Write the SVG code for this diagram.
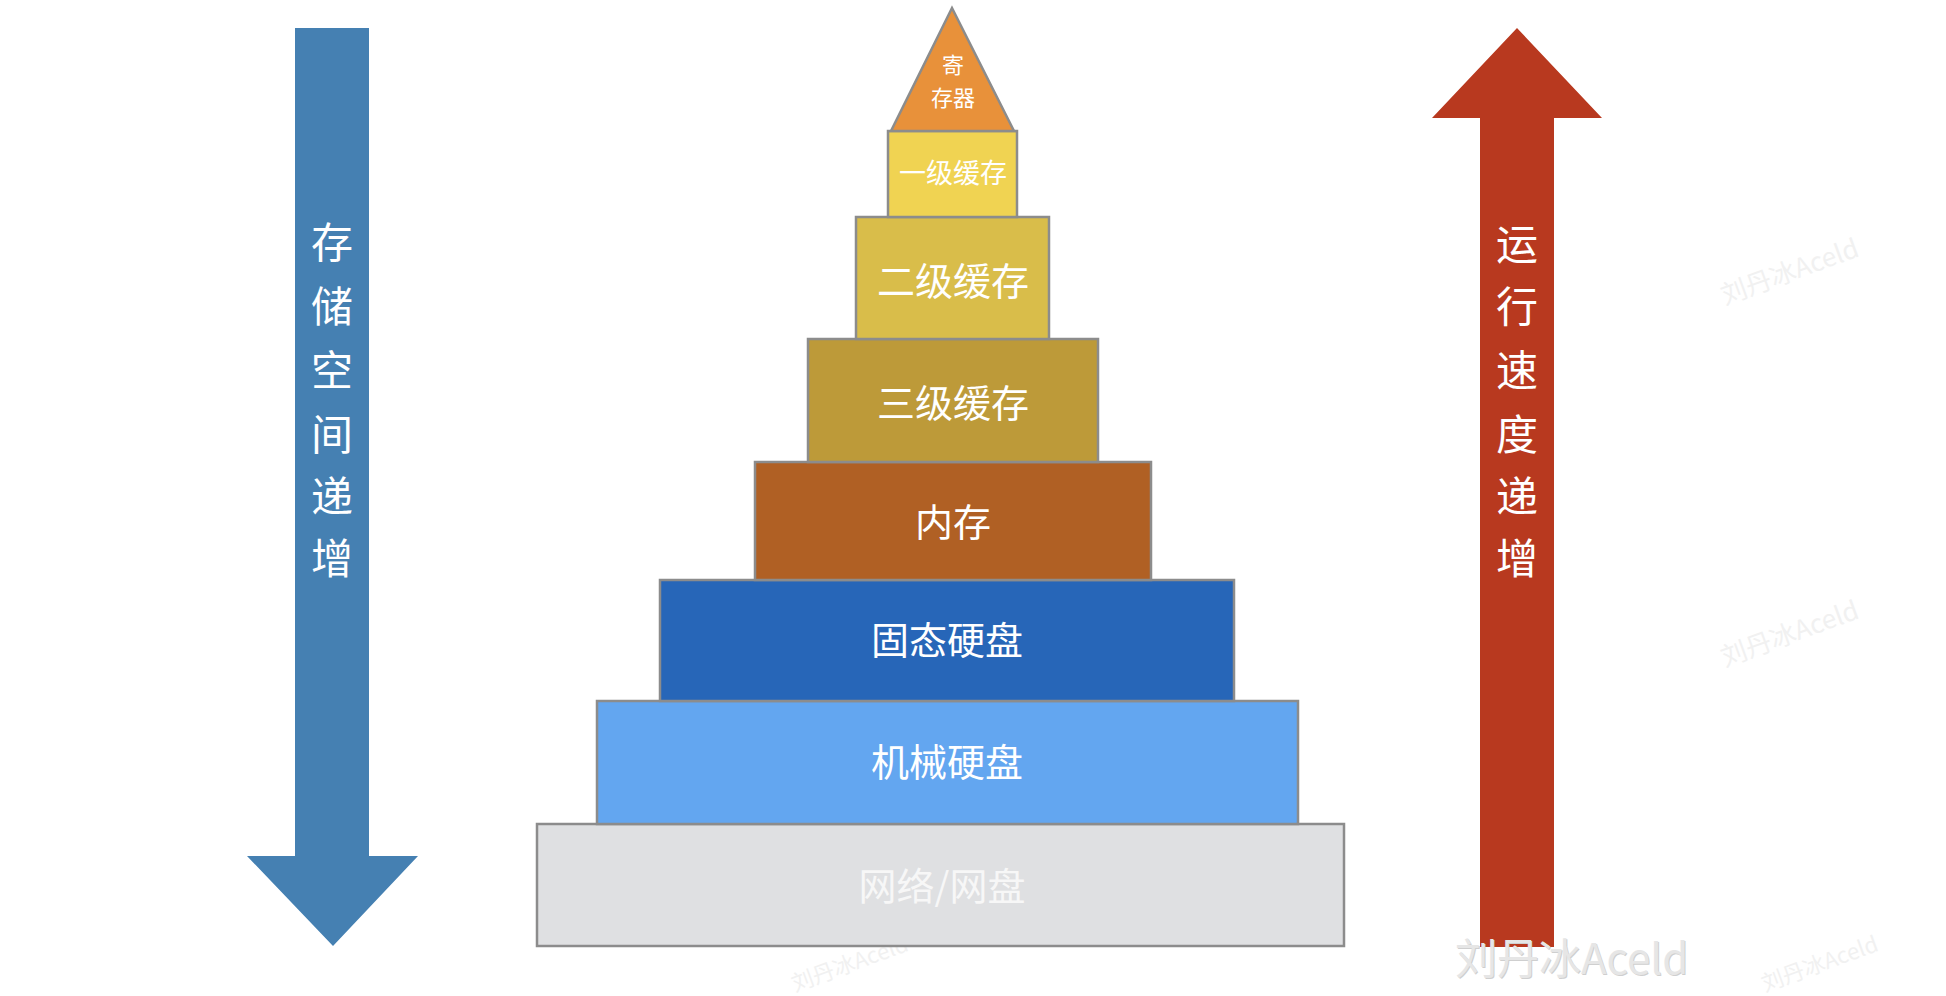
<svg xmlns="http://www.w3.org/2000/svg" width="1946" height="996" viewBox="0 0 1946 996">
<style>
.lvl{stroke:#8c8c8c;stroke-width:2.5}
.t{font-family:"Noto Sans CJK SC","Noto Sans",sans-serif;fill:#ffffff;text-anchor:middle}
.wm{font-family:"Noto Sans CJK SC","Noto Sans",sans-serif;fill:#f1f1f1;font-size:26px}
</style>
<rect width="1946" height="996" fill="#ffffff"/>
<g id="watermarks">
<text class="wm" transform="translate(1725,305) rotate(-20)">刘丹冰Aceld</text>
<text class="wm" transform="translate(1725,667) rotate(-20)">刘丹冰Aceld</text>
<text class="wm" font-size="22" transform="translate(1765,992) rotate(-20)" style="font-size:22px">刘丹冰Aceld</text>
<text class="wm" font-size="22" transform="translate(795,992) rotate(-20)" style="font-size:22px">刘丹冰Aceld</text>
</g>
<g id="arrow-left">
<polygon points="295,28 369,28 369,856 418,856 333,946 247,856 295,856" fill="#4580b2"/>
<text class="t" font-size="42" x="332" y="258">存</text>
<text class="t" font-size="42" x="332" y="322">储</text>
<text class="t" font-size="42" x="332" y="386">空</text>
<text class="t" font-size="42" x="332" y="450">间</text>
<text class="t" font-size="42" x="332" y="512">递</text>
<text class="t" font-size="42" x="332" y="574">增</text>
</g>
<g id="arrow-right">
<polygon points="1517,28 1602,118 1554,118 1554,947 1480,947 1480,118 1432,118" fill="#b8391f"/>
<text class="t" font-size="42" x="1517" y="260">运</text>
<text class="t" font-size="42" x="1517" y="322">行</text>
<text class="t" font-size="42" x="1517" y="386">速</text>
<text class="t" font-size="42" x="1517" y="450">度</text>
<text class="t" font-size="42" x="1517" y="512">递</text>
<text class="t" font-size="42" x="1517" y="574">增</text>
</g>
<g id="network">
<rect class="lvl" x="537" y="824" width="807" height="122" fill="#dfe0e2"/>
<text class="t" font-size="38" x="942" y="900" style="fill:#f7f7f7">网络/网盘</text>
</g>
<g id="hdd">
<rect class="lvl" x="597" y="701" width="701" height="123" fill="#63a6f0"/>
<text class="t" font-size="38" x="947" y="776">机械硬盘</text>
</g>
<g id="ssd">
<rect class="lvl" x="660" y="580" width="574" height="121" fill="#2766b8"/>
<text class="t" font-size="38" x="947" y="654">固态硬盘</text>
</g>
<g id="memory">
<rect class="lvl" x="755" y="462" width="396" height="118" fill="#b06024"/>
<text class="t" font-size="38" x="953" y="536">内存</text>
</g>
<g id="l3">
<rect class="lvl" x="808" y="339" width="290" height="123" fill="#bd9a39"/>
<text class="t" font-size="38" x="953" y="417">三级缓存</text>
</g>
<g id="l2">
<rect class="lvl" x="856" y="217" width="193" height="122" fill="#d9bd4a"/>
<text class="t" font-size="38" x="953" y="295">二级缓存</text>
</g>
<g id="l1">
<rect class="lvl" x="888" y="131" width="129" height="86" fill="#f0d352"/>
<text class="t" font-size="27" x="953" y="183">一级缓存</text>
</g>
<g id="register">
<polygon class="lvl" points="952,8 1014,131 891,131" fill="#e8913a"/>
<text class="t" font-size="22" x="953" y="73">寄</text>
<text class="t" font-size="22" x="953" y="106">存器</text>
</g>
<g id="footer">
<text x="1456" y="975" font-family="Noto Sans CJK SC, Noto Sans, sans-serif" font-size="42" fill="#cfcfcf">刘丹冰Aceld</text>
<text x="1455" y="974" font-family="Noto Sans CJK SC, Noto Sans, sans-serif" font-size="42" fill="#e6e6e6">刘丹冰Aceld</text>
</g>
</svg>
